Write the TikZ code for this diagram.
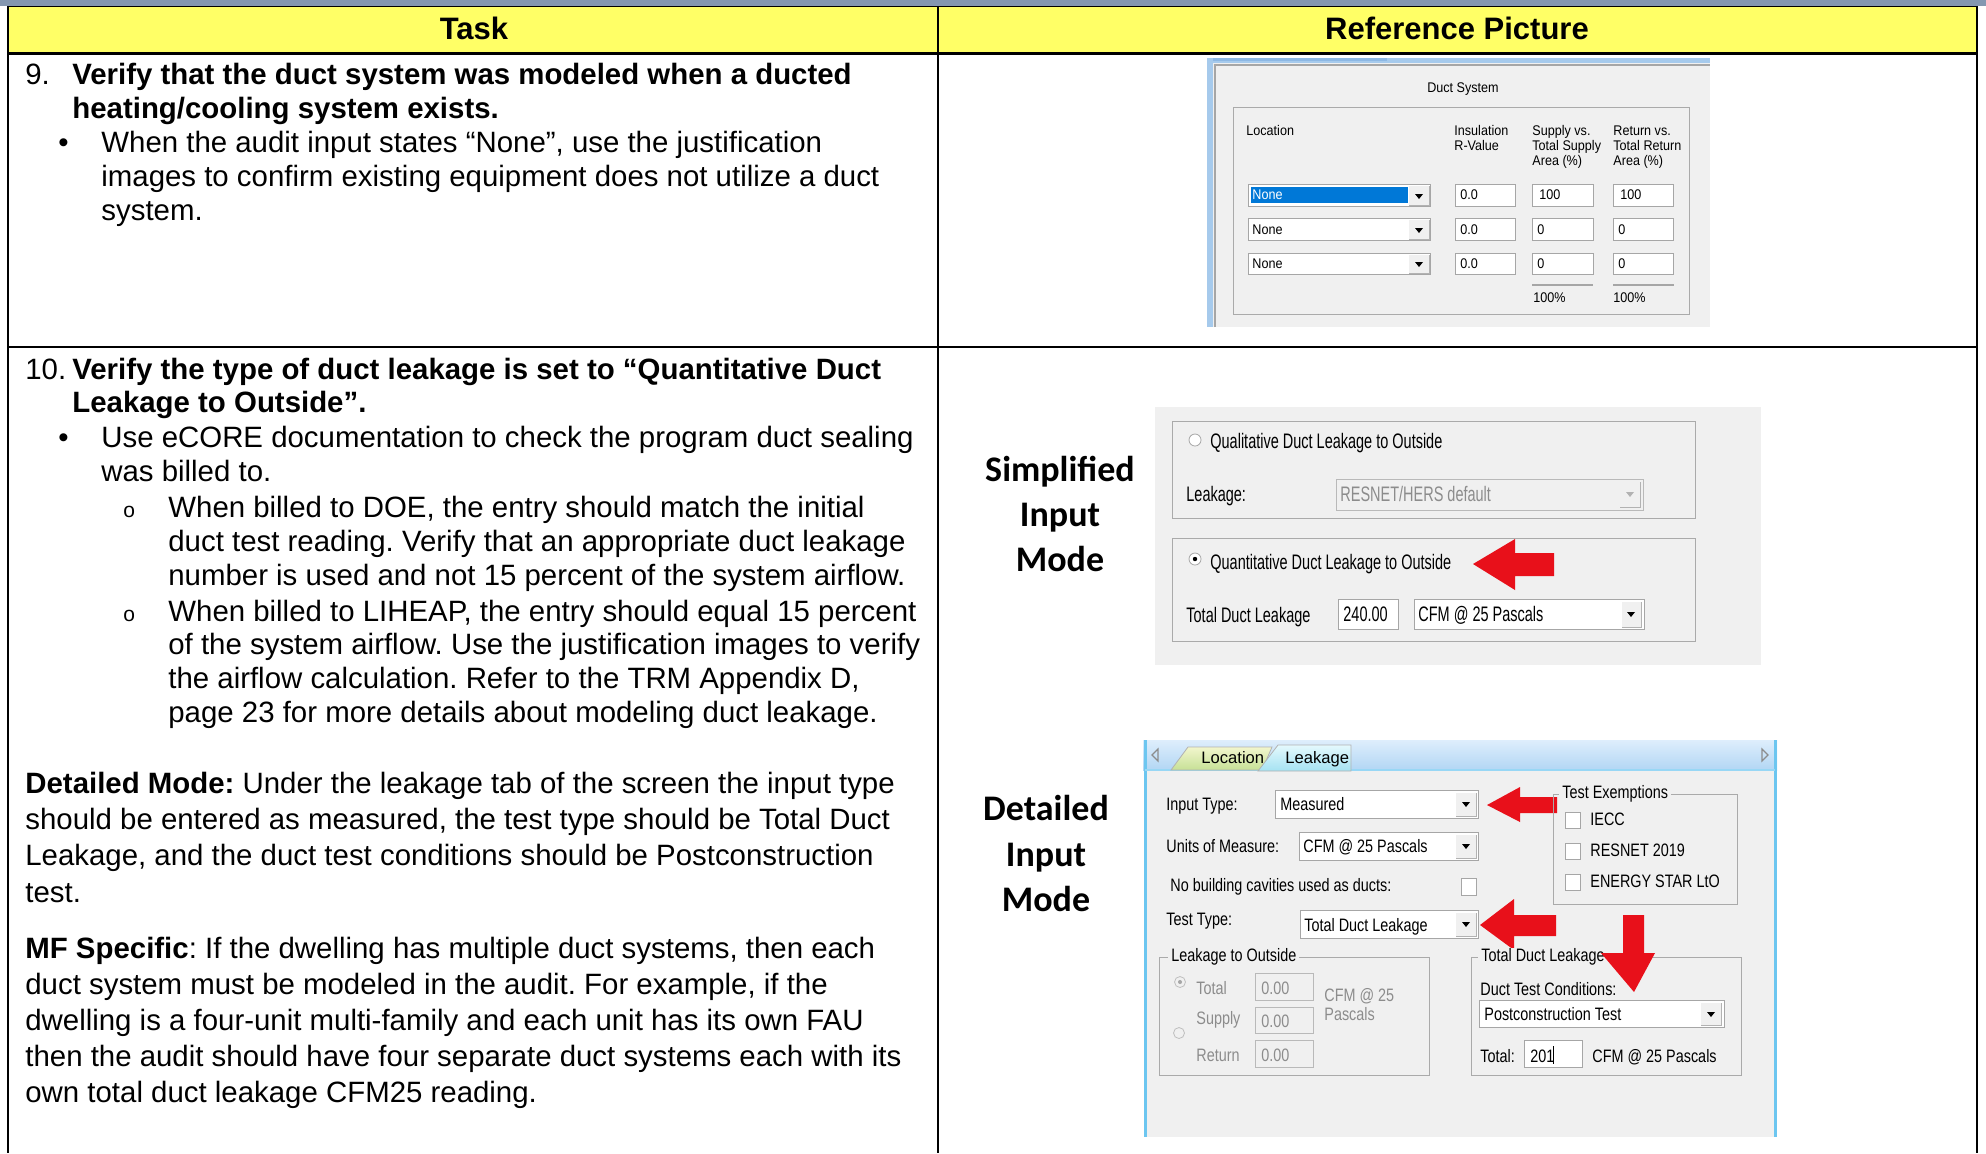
\documentclass[tikz,border=0pt]{standalone}
\usepackage{fontspec}
\setmainfont{Liberation Sans}
\newfontfamily\calib{Carlito}
\newfontfamily\uiA[FakeStretch=0.9]{Liberation Sans}
\newfontfamily\uiB[FakeStretch=0.69]{Liberation Sans}
\newfontfamily\uiC[FakeStretch=0.8]{Liberation Sans}
\definecolor{topgray}{HTML}{8497B0}
\definecolor{hdry}{HTML}{FFFF66}
\definecolor{uibg}{HTML}{F0F0F0}
\definecolor{grpline}{HTML}{AAAAAA}
\definecolor{selblue}{HTML}{0078D7}
\definecolor{arrred}{HTML}{E8101A}
\definecolor{frameblue}{HTML}{A6CAEC}
\definecolor{framedark}{HTML}{8DB8E4}
\definecolor{cyanb}{HTML}{6CC6F0}
\definecolor{distext}{HTML}{8C8C8C}
\newcommand\ddtri[2]{\fill[black] (#1-4,#2-2) -- (#1+4,#2-2) -- (#1,#2+3) -- cycle;}
\newcommand\ddbtn[4]{\fill[uibg] (#1,#2) rectangle (#3,#4); \draw[gray!60,line width=0.4pt] (#1,#4) -- (#3,#4) -- (#3,#2);}
\frenchspacing
\begin{document}
\begin{tikzpicture}[x=0.5pt,y=-0.5pt,
  body/.style={anchor=base west, inner sep=0pt, font=\fontsize{14.7}{17}\selectfont},
  bodyb/.style={body, font=\fontsize{14.7}{17}\selectfont\bfseries},
  hdr/.style={anchor=base, inner sep=0pt, font=\fontsize{15.5}{18}\selectfont\bfseries},
  mode/.style={anchor=base, inner sep=0pt, font=\calib\fontsize{18}{20}\selectfont\bfseries},
  ta/.style={anchor=base west, inner sep=0pt, font=\uiA\fontsize{7}{8}\selectfont},
  tb/.style={anchor=base west, inner sep=0pt, font=\uiB\fontsize{10.5}{12}\selectfont},
  tc/.style={anchor=base west, inner sep=0pt, font=\uiC\fontsize{9}{10}\selectfont},
  tcdis/.style={tc, text=distext},
  field/.style={draw=gray!70, fill=white, line width=0.5pt},
  disfield/.style={draw=gray!55, fill=uibg, line width=0.5pt},
  grp/.style={draw=grpline, line width=0.5pt},
  redarrow/.style={fill=arrred, draw=none},
  glbl/.style={fill=uibg, inner xsep=1.5pt, inner ysep=0pt},
]
\useasboundingbox (0,0) rectangle (1986,1153);
\fill[white] (0,0) rectangle (1986,1153);
% ---------- table ----------
\fill[topgray] (0,0) rectangle (1986,6);
\fill[hdry] (8,7) rectangle (1977,52);
\draw[line width=0.6pt] (8,6.5) -- (1977,6.5);
\draw[line width=1.5pt] (8,53) -- (1977,53);
\draw[line width=1pt] (8,6) -- (8,1153);
\draw[line width=1pt] (938,6) -- (938,1153);
\draw[line width=1pt] (1977,6) -- (1977,1153);
\draw[line width=1pt] (8,347) -- (1977,347);
\node[hdr] (htask) at (474,39) {Task};
\node[hdr] (hpic) at (1457,39) {Reference Picture};
% ---------- row 9 text ----------
\node[body] (n9) at (25,84) {9.};
\node[bodyb] (t9a) at (72,84) {Verify that the duct system was modeled when a ducted};
\node[bodyb] (t9b) at (72,118) {heating/cooling system exists.};
\node[body] (b9) at (58,152) {\textbullet};
\node[body] (t9c) at (101,152) {When the audit input states “None”, use the justification};
\node[body] (t9d) at (101,186) {images to confirm existing equipment does not utilize a duct};
\node[body] (t9e) at (101,220) {system.};
% ---------- row 10 text ----------
\node[body] (n10) at (25,379) {10.};
\node[bodyb] (t10a) at (72,379) {Verify the type of duct leakage is set to “Quantitative Duct};
\node[bodyb] (t10b) at (72,412) {Leakage to Outside”.};
\node[body] (b10) at (58,447) {\textbullet};
\node[body] (t10c) at (101,447) {Use eCORE documentation to check the program duct sealing};
\node[body] (t10d) at (101,481) {was billed to.};
\node[body,font=\fontsize{10.5}{12}\selectfont] (o1) at (123,517) {o};
\node[body] (t10e) at (168,517) {When billed to DOE, the entry should match the initial};
\node[body] (t10f) at (168,551) {duct test reading. Verify that an appropriate duct leakage};
\node[body] (t10g) at (168,585) {number is used and not 15 percent of the system airflow.};
\node[body,font=\fontsize{10.5}{12}\selectfont] (o2) at (123,621) {o};
\node[body] (t10h) at (168,621) {When billed to LIHEAP, the entry should equal 15 percent};
\node[body] (t10i) at (168,654) {of the system airflow. Use the justification images to verify};
\node[body] (t10j) at (168,688) {the airflow calculation. Refer to the TRM Appendix D,};
\node[body] (t10k) at (168,722) {page 23 for more details about modeling duct leakage.};
\node[body] (d1) at (25,793) {\textbf{Detailed Mode:} Under the leakage tab of the screen the input type};
\node[body] (d2) at (25,829) {should be entered as measured, the test type should be Total Duct};
\node[body] (d3) at (25,865) {Leakage, and the duct test conditions should be Postconstruction};
\node[body] (d4) at (25,902) {test.};
\node[body] (m1) at (25,958) {\textbf{MF Specific}: If the dwelling has multiple duct systems, then each};
\node[body] (m2) at (25,994) {duct system must be modeled in the audit. For example, if the};
\node[body] (m3) at (25,1030) {dwelling is a four-unit multi-family and each unit has its own FAU};
\node[body] (m4) at (25,1066) {then the audit should have four separate duct systems each with its};
\node[body] (m5) at (25,1102) {own total duct leakage CFM25 reading.};
% ---------- mode labels ----------
\node[mode] (s1) at (1060,481) {Simplified};
\node[mode] (s2) at (1060,526) {Input};
\node[mode] (s3) at (1060,571) {Mode};
\node[mode] (e1) at (1046,820) {Detailed};
\node[mode] (e2) at (1046,866) {Input};
\node[mode] (e3) at (1046,911) {Mode};
% ---------- image 1: Duct System ----------
\fill[uibg] (1207,58) rectangle (1710,327);
\fill[frameblue] (1207,58) rectangle (1710,63);
\fill[framedark] (1207,58) rectangle (1387,61);
\fill[frameblue] (1207,58) rectangle (1213,327);
\draw[gray!70,line width=0.6pt] (1215,327) -- (1215,65) -- (1710,65);
\node[ta,anchor=base] (dst) at (1463,92) {Duct System};
\draw[grp] (1233,107) rectangle (1689,314);
\node[ta] (loc) at (1246,135) {Location};
\node[ta] (ins1) at (1454,135) {Insulation};
\node[ta] (ins2) at (1454,150) {R-Value};
\node[ta] (sup1) at (1532,135) {Supply vs.};
\node[ta] (sup2) at (1532,150) {Total Supply};
\node[ta] (sup3) at (1532,165) {Area (\%)};
\node[ta] (ret1) at (1613,135) {Return vs.};
\node[ta] (ret2) at (1613,150) {Total Return};
\node[ta] (ret3) at (1613,165) {Area (\%)};
% row 1
\draw[field] (1248,184) rectangle (1430,206);
\fill[selblue] (1251,187) rectangle (1408,203);
\ddbtn{1409}{186}{1429}{205}\ddtri{1419}{196}
\node[ta,text=white] (r1a) at (1252,199) {None};
\draw[field] (1455,184) rectangle (1515,206); \node[ta] (r1b) at (1460,199) {0.0};
\draw[field] (1532,184) rectangle (1593,206); \node[ta] (r1c) at (1539,199) {100};
\draw[field] (1613,184) rectangle (1673,206); \node[ta] (r1d) at (1620,199) {100};
% row 2
\draw[field] (1248,218) rectangle (1430,240);
\ddbtn{1409}{220}{1429}{239}\ddtri{1419}{230}
\node[ta] (r2a) at (1252,234) {None};
\draw[field] (1455,218) rectangle (1515,240); \node[ta] (r2b) at (1460,234) {0.0};
\draw[field] (1532,218) rectangle (1593,240); \node[ta] (r2c) at (1537,234) {0};
\draw[field] (1613,218) rectangle (1673,240); \node[ta] (r2d) at (1618,234) {0};
% row 3
\draw[field] (1248,253) rectangle (1430,274);
\ddbtn{1409}{255}{1429}{273}\ddtri{1419}{264}
\node[ta] (r3a) at (1252,268) {None};
\draw[field] (1455,253) rectangle (1515,274); \node[ta] (r3b) at (1460,268) {0.0};
\draw[field] (1532,253) rectangle (1593,274); \node[ta] (r3c) at (1537,268) {0};
\draw[field] (1613,253) rectangle (1673,274); \node[ta] (r3d) at (1618,268) {0};
\draw[gray!70,line width=1pt] (1532,285) -- (1593,285);
\draw[gray!70,line width=1pt] (1613,285) -- (1674,285);
\node[ta] (p1) at (1533,302) {100\%};
\node[ta] (p2) at (1613,302) {100\%};
% ---------- image 2: Simplified ----------
\fill[uibg] (1155,407) rectangle (1761,665);
\draw[grp] (1172,421) rectangle (1695,518);
\draw[gray!70,fill=white,line width=0.4pt] (1195,440) circle (6);
\node[tb] (qual) at (1210,448) {Qualitative Duct Leakage to Outside};
\node[tb] (leak) at (1186,501) {Leakage:};
\draw[disfield] (1336,479) rectangle (1643,510);
\node[tb,text=distext] (resnet) at (1340,501) {RESNET/HERS default};
\ddbtn{1620}{482}{1640}{507}
\fill[gray!60] (1626,492) -- (1634,492) -- (1630,497) -- cycle;
\draw[grp] (1172,538) rectangle (1695,641);
\draw[gray!70,fill=white,line width=0.4pt] (1195,559) circle (6);
\fill[black] (1195,559) circle (2.2);
\node[tb] (quant) at (1210,569) {Quantitative Duct Leakage to Outside};
\fill[redarrow] (1473,564) -- (1515,539) -- (1515,553) -- (1554,553) -- (1554,576) -- (1515,576) -- (1515,590) -- cycle;
\node[tb] (tdl) at (1186,622) {Total Duct Leakage};
\draw[field] (1338,599) rectangle (1398,629);
\node[tb] (v240) at (1343,621) {240.00};
\draw[field] (1414,599) rectangle (1644,629);
\node[tb] (cfm1) at (1418,621) {CFM @ 25 Pascals};
\ddbtn{1622}{602}{1641}{627}\ddtri{1631}{614}
% ---------- image 3: Detailed ----------
\shade[top color={rgb,255:red,222;green,238;blue,252}, bottom color={rgb,255:red,178;green,214;blue,244}] (1143,740) rectangle (1777,770);
\fill[uibg] (1145,770) rectangle (1775,1137);
\draw[cyanb,line width=1.5pt] (1145,740) -- (1145,1137);
\draw[cyanb,line width=1.5pt] (1775,740) -- (1775,1137);
\draw[cyanb!70,line width=0.8pt] (1145,770) -- (1775,770);
\draw[gray!90,line width=0.6pt] (1158,749) -- (1152,755) -- (1158,761) -- cycle;
\draw[gray!90,line width=0.6pt] (1762,749) -- (1768,755) -- (1762,761) -- cycle;
\shade[top color={rgb,255:red,242;green,246;blue,205}, bottom color={rgb,255:red,198;green,224;blue,150}, draw=gray!60] (1171,770) -- (1188,747) -- (1272,747) -- (1262,770) -- cycle;
\shade[top color={rgb,255:red,228;green,249;blue,253}, bottom color={rgb,255:red,165;green,226;blue,242}, draw=gray!60] (1258,771) -- (1278,745) -- (1351,745) -- (1351,771) -- cycle;
\node[anchor=base west,inner sep=0pt,font=\fontsize{8.3}{9}\selectfont] (tloc) at (1201,763) {Location};
\node[anchor=base west,inner sep=0pt,font=\fontsize{8.3}{9}\selectfont] (tleak) at (1285,763) {Leakage};
% left fields
\node[tc] (it) at (1166,810) {Input Type:};
\draw[field] (1275,790) rectangle (1478,818);
\node[tc] (meas) at (1280,810) {Measured};
\ddbtn{1456}{793}{1476}{816}\ddtri{1466}{804}
\fill[redarrow] (1487,805) -- (1520,787) -- (1520,797) -- (1557,797) -- (1557,813) -- (1520,813) -- (1520,822) -- cycle;
\node[tc] (uom) at (1166,852) {Units of Measure:};
\draw[field] (1299,832) rectangle (1478,860);
\node[tc] (cfm2) at (1303,852) {CFM @ 25 Pascals};
\ddbtn{1456}{835}{1476}{858}\ddtri{1466}{846}
\node[tc] (nbc) at (1170,891) {No building cavities used as ducts:};
\draw[field] (1461,878) rectangle (1476,895);
\node[tc] (tt) at (1166,925) {Test Type:};
\draw[field] (1300,910) rectangle (1478,938);
\node[tc] (tdl2) at (1304,931) {Total Duct Leakage};
\ddbtn{1456}{913}{1476}{936}\ddtri{1466}{924}
\fill[redarrow] (1480,925) -- (1514,899) -- (1514,915) -- (1556,915) -- (1556,936) -- (1514,936) -- (1514,950) -- cycle;
% test exemptions
\draw[grp] (1553,794) rectangle (1737,904);
\node[tc,glbl] (tex) at (1559,798) {Test Exemptions};
\draw[field] (1565,812) rectangle (1580,828);
\node[tc] (iecc) at (1590,825) {IECC};
\draw[field] (1565,843) rectangle (1580,859);
\node[tc] (res19) at (1590,856) {RESNET 2019};
\draw[field] (1565,874) rectangle (1580,890);
\node[tc] (estar) at (1590,887) {ENERGY STAR LtO};
% leakage to outside group
\draw[grp] (1159,957) rectangle (1429,1075);
\node[tc,glbl] (lto) at (1168,961) {Leakage to Outside};
\draw[gray!50,fill=uibg,line width=0.4pt] (1180,982) circle (5.5);
\fill[gray!70] (1180,982) circle (2);
\node[tcdis] (ltot) at (1196,994) {Total};
\draw[disfield] (1255,973) rectangle (1313,1000);
\node[tcdis] (z1) at (1261,994) {0.00};
\node[tcdis] (lsup) at (1196,1024) {Supply};
\draw[disfield] (1255,1007) rectangle (1313,1033);
\node[tcdis] (z2) at (1261,1027) {0.00};
\draw[gray!50,fill=uibg,line width=0.4pt] (1179,1033) circle (5.5);
\node[tcdis] (lret) at (1196,1061) {Return};
\draw[disfield] (1255,1040) rectangle (1313,1067);
\node[tcdis] (z3) at (1261,1061) {0.00};
\node[tcdis] (lc1) at (1324,1001) {CFM @ 25};
\node[tcdis] (lc2) at (1324,1020) {Pascals};
% total duct leakage group
\draw[grp] (1471,957) rectangle (1741,1075);
\node[tc,glbl] (tdlg) at (1478,961) {Total Duct Leakage};
\node[tc] (dtc) at (1480,995) {Duct Test Conditions:};
\draw[field] (1479,1000) rectangle (1724,1027);
\node[tc] (pct) at (1484,1020) {Postconstruction Test};
\ddbtn{1701}{1003}{1721}{1025}\ddtri{1711}{1014}
\node[tc] (tot) at (1480,1062) {Total:};
\draw[field] (1524,1040) rectangle (1582,1067);
\node[tc] (v201) at (1530,1062) {201};
\draw[black,line width=0.5pt] (1553,1046) -- (1553,1064);
\node[tc] (cfm3) at (1592,1062) {CFM @ 25 Pascals};
\fill[redarrow] (1623,915) -- (1644,915) -- (1644,953) -- (1655,953) -- (1634,992) -- (1601,953) -- (1623,953) -- cycle;
\end{tikzpicture}
\end{document}
